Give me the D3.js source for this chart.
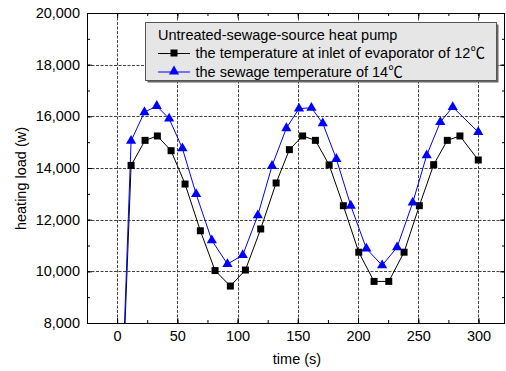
<!DOCTYPE html>
<html>
<head>
<meta charset="utf-8">
<script src="https://cdn.jsdelivr.net/npm/d3@7"></script>
<style>
body { margin: 0; background: #fff; }
svg text { font-family: "Liberation Sans", Arial, sans-serif; }
</style>
</head>
<body>
<svg id="chart" width="506" height="371"></svg>
<script>
// series
const timeA = [0, 11.6, 23.2, 33.4, 44.8, 56.4, 69.1, 81.3, 94, 106.5, 119.2, 132, 143, 154, 164.6, 176, 187.8, 200.6, 213.3, 225.5, 238.2, 250.9, 262.8, 274.1, 284.6, 299.8];
const loadA = [0, 14100, 15070, 15240, 14670, 13380, 11570, 10030, 9430, 10050, 11640, 13420, 14710, 15240, 15070, 14120, 12540, 10740, 9610, 9610, 10740, 12540, 14130, 15070, 15240, 14310];
const timeB = [0, 11.6, 22.7, 32.9, 43.2, 54.2, 65.6, 78.6, 91.6, 104.3, 116.8, 128.6, 140.5, 151, 161.3, 170.7, 182, 194, 206.9, 220, 232.4, 245.4, 257, 268.3, 278.6, 299.8];
const loadB = [0, 15050, 16160, 16400, 15910, 14760, 12990, 11200, 10280, 10630, 12170, 14080, 15540, 16300, 16330, 15730, 14350, 12540, 10880, 10230, 10930, 12660, 14490, 15780, 16360, 15390];

const xTicks = [0, 50, 100, 150, 200, 250, 300];
const yTicks = [8000, 10000, 12000, 14000, 16000, 18000, 20000];
const legendTitle = 'Untreated-sewage-source heat pump';
const seriesNames = ['the temperature at inlet of evaporator of 12', 'the sewage temperature of 14'];
const unit = '\u2103';

const pL = 87, pR = 505, pT = 13, pB = 323;
const fs = 14.5;
const svg = d3.select('#chart');

const x = d3.scaleLinear().domain([-25, 322]).range([pL, pR]);
const y = d3.scaleLinear().domain([8000, 20000]).range([pB, pT]);

svg.append('defs').append('clipPath').attr('id', 'clip')
	.append('rect')
	.attr('x', pL).attr('y', pT)
	.attr('width', pR - pL).attr('height', pB - pT);

// grid
const grid = svg.append('g').attr('stroke', '#444').attr('stroke-width', 1).attr('stroke-dasharray', '3,1.5');
grid.selectAll('.gx').data(xTicks).enter().append('line')
	.attr('x1', d => Math.round(x(d)) + 0.5).attr('x2', d => Math.round(x(d)) + 0.5)
	.attr('y1', pT).attr('y2', pB);
grid.selectAll('.gy').data(yTicks.slice(1, -1)).enter().append('line')
	.attr('y1', d => Math.round(y(d)) + 0.5).attr('y2', d => Math.round(y(d)) + 0.5)
	.attr('x1', pL).attr('x2', pR);

// axes, ticks pointing inward on all four sides
const fmt = d3.format(',');
const xMinor = d3.range(-25, 325, 25);
const yMinor = d3.range(8000, 20001, 1000);

svg.append('g').attr('transform', `translate(0,${pB})`)
	.call(d3.axisBottom(x).tickValues(xMinor).tickSize(-3).tickFormat(''));
svg.append('g').attr('transform', `translate(0,${pB})`)
	.call(d3.axisBottom(x).tickValues(xTicks).tickSize(-5).tickPadding(8).tickFormat(d3.format('d')));
svg.append('g').attr('transform', `translate(0,${pT})`)
	.call(d3.axisTop(x).tickValues(xMinor).tickSize(-3).tickFormat(''));
svg.append('g').attr('transform', `translate(0,${pT})`)
	.call(d3.axisTop(x).tickValues(xTicks).tickSize(-5).tickFormat(''));

svg.append('g').attr('transform', `translate(${pL},0)`)
	.call(d3.axisLeft(y).tickValues(yMinor).tickSize(-3).tickFormat(''));
svg.append('g').attr('transform', `translate(${pL},0)`)
	.call(d3.axisLeft(y).tickValues(yTicks).tickSize(-5).tickPadding(7).tickFormat(fmt));
svg.append('g').attr('transform', `translate(${pR},0)`)
	.call(d3.axisRight(y).tickValues(yMinor).tickSize(-3).tickFormat(''));
svg.append('g').attr('transform', `translate(${pR},0)`)
	.call(d3.axisRight(y).tickValues(yTicks).tickSize(-5).tickFormat(''));

svg.selectAll('.domain').remove();
svg.selectAll('.tick text').attr('font-size', fs).attr('fill', '#000')
	.attr('font-family', '"Liberation Sans", Arial, sans-serif');
svg.selectAll('.tick line').attr('stroke', '#000');

svg.append('rect')
	.attr('x', pL + 0.5).attr('y', pT + 0.5)
	.attr('width', pR - pL - 1).attr('height', pB - pT)
	.attr('fill', 'none').attr('stroke', '#000').attr('stroke-width', 1);

// axis titles
svg.append('text').attr('x', 297).attr('y', 363.5)
	.attr('text-anchor', 'middle').attr('font-size', fs).text('time (s)');
svg.append('text').attr('transform', 'translate(25.5,178.5) rotate(-90)')
	.attr('text-anchor', 'middle').attr('font-size', fs).text('heating load (w)');

// series
const seriesA = timeA.map((t, i) => ({ t: t, v: loadA[i] }));
const seriesB = timeB.map((t, i) => ({ t: t, v: loadB[i] }));
const line = d3.line().x(d => x(d.t)).y(d => y(d.v));
const plot = svg.append('g').attr('clip-path', 'url(#clip)');

plot.append('path').datum(seriesA).attr('d', line)
	.attr('fill', 'none').attr('stroke', '#000').attr('stroke-width', 1);
plot.append('path').datum(seriesB).attr('d', line)
	.attr('fill', 'none').attr('stroke', '#0000ff').attr('stroke-width', 1);

const square = d3.symbol().type(d3.symbolSquare).size(49);
const triangle = d3.symbol().type(d3.symbolTriangle).size(45);

plot.selectAll('.ma').data(seriesA.slice(1)).enter().append('path')
	.attr('d', square)
	.attr('transform', d => `translate(${x(d.t)},${y(d.v)})`)
	.attr('fill', '#000');
plot.selectAll('.mb').data(seriesB.slice(1)).enter().append('path')
	.attr('d', triangle)
	.attr('transform', d => `translate(${x(d.t)},${y(d.v)})`)
	.attr('fill', '#0000ff');

// legend
const lg = svg.append('g');
lg.append('rect').attr('x', 147.5).attr('y', 24.5).attr('width', 351).attr('height', 58)
	.attr('fill', '#666');
lg.append('rect').attr('x', 145.5).attr('y', 22.5).attr('width', 351).attr('height', 58)
	.attr('fill', '#e6e6e6').attr('stroke', '#555').attr('stroke-width', 1);
lg.append('text').attr('x', 158).attr('y', 39.5).attr('font-size', fs).text(legendTitle);

const rows = [
	{ name: seriesNames[0], color: '#000', sym: square, cy: 53 },
	{ name: seriesNames[1], color: '#0000ff', sym: triangle, cy: 71.5 }
];
rows.forEach(r => {
	lg.append('line').attr('x1', 158).attr('x2', 190).attr('y1', r.cy + 0.5).attr('y2', r.cy + 0.5)
		.attr('stroke', r.color).attr('stroke-width', 1);
	lg.append('path').attr('d', r.sym).attr('transform', `translate(174,${r.cy})`).attr('fill', r.color);
	const t = lg.append('text').attr('x', 195.5).attr('y', r.cy + 5).attr('font-size', fs).text(r.name);
	t.append('tspan').style('font-family', '"Noto Sans CJK SC", sans-serif').text(unit);
});
</script>
</body>
</html>
